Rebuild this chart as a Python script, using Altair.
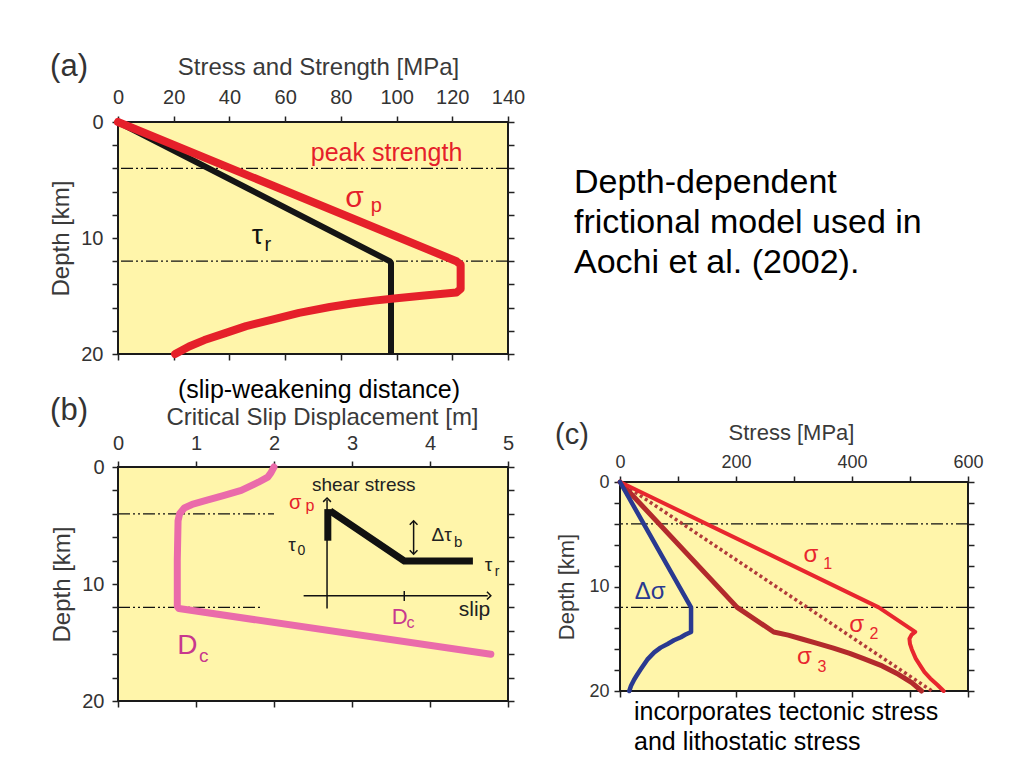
import altair as alt
import pandas as pd

FONT = "Liberation Sans"

# ---------------- data ----------------
depth_ticks = [0, 2, 4, 6, 8, 10, 12, 14, 16, 18, 20]
guide_depths = [4, 12]

# (a) stress and strength profiles [MPa] vs depth [km]
a_stress_ticks = [0, 20, 40, 60, 80, 100, 120, 140]
a_tau_stress = [0, 97.5, 98, 98]
a_tau_depth = [0, 12.0, 12.15, 20]
a_sigp_stress = [0, 121.5, 123, 123, 121.5, 110, 100, 92, 84, 76, 65, 55, 46, 38.5, 31, 25.5, 20.5]
a_sigp_depth = [0, 12.0, 12.3, 14.4, 14.7, 14.95, 15.2, 15.4, 15.65, 15.95, 16.45, 17.05, 17.6, 18.2, 18.8, 19.35, 20]

# (b) critical slip displacement [m] vs depth [km]
b_slip_ticks = [0, 1, 2, 3, 4, 5]
b_dc_slip = [2.0, 1.96, 1.92, 1.8, 1.58, 1.35, 1.13, 0.95, 0.85, 0.79, 0.77, 0.76, 0.76, 0.78, 4.78]
b_dc_depth = [0, 0.5, 0.86, 1.3, 2.0, 2.45, 2.86, 3.2, 3.5, 4.0, 4.6, 8.0, 11.9, 12.1, 16.0]
b_guide_slip_end = [2.0, 1.84]

# inset sketch of the slip-weakening law (in panel-b units)
inset_bar_slip = [2.69]
inset_bar_top = [3.6]
inset_bar_bottom = [6.3]
inset_law_slip = [2.72, 3.67, 4.55]
inset_law_depth = [3.75, 8.03, 8.03]
inset_rule_x1 = [2.68, 2.38, 3.67, 3.79]
inset_rule_y1 = [2.8, 11.0, 10.6, 4.7]
inset_rule_x2 = [2.68, 4.74, 3.67, 3.79]
inset_rule_y2 = [12.1, 11.0, 11.45, 7.35]
arrow_up_x = [2.68, 3.79]
arrow_up_y = [2.65, 4.6]
arrow_right_x = [4.78]
arrow_right_y = [11.0]
arrow_down_x = [3.79]
arrow_down_y = [7.45]

# (c) stress [MPa] vs depth [km]
c_stress_ticks = [0, 100, 200, 300, 400, 500, 600]
c_dsig_stress = [0, 122.5, 122.5, 113, 105, 93, 82, 70, 59, 47, 36, 29, 24.5, 19, 16]
c_dsig_depth = [0, 12.0, 14.35, 14.6, 14.85, 15.15, 15.5, 15.85, 16.3, 17.0, 17.9, 18.5, 18.9, 19.5, 20]
c_s1_stress = [0, 446, 509, 503, 499, 500, 503, 510, 518, 525, 535, 547, 558]
c_s1_depth = [0, 12, 14.35, 14.6, 15.0, 15.5, 16.0, 16.9, 17.6, 18.2, 18.8, 19.4, 20]
c_s2_stress = [0, 538]
c_s2_depth = [0, 20]
c_s3_stress = [0, 202, 265, 290, 312, 340, 368, 396, 420, 452, 480, 503, 520]
c_s3_depth = [0, 12, 14.35, 14.65, 15.0, 15.45, 15.9, 16.4, 16.9, 17.6, 18.4, 19.2, 20]

# annotation texts (data units of each panel)
a_txt = pd.DataFrame({
    "t": ["peak strength", "σ", "p", "τ", "r"],
    "x": [96.4, 84.9, 92.7, 50, 53.8],
    "y": [3.34, 7.34, 7.8, 10.5, 11.1],
    "s": [25, 30, 20, 28, 20],
    "c": ["#E5202A", "#E5202A", "#E5202A", "#111111", "#111111"],
})
b_txt = pd.DataFrame({
    "t": ["D", "c", "shear stress", "σ", "p", "τ", "0", "Δτ", "b", "τ", "r", "D", "c", "slip"],
    "x": [0.89, 1.1, 3.15, 2.27, 2.46, 2.23, 2.35, 4.15, 4.36, 4.75, 4.86, 3.61, 3.75, 4.57],
    "y": [16.0, 16.7, 2.05, 3.6, 3.8, 7.2, 7.5, 6.3, 6.85, 8.9, 9.3, 13.4, 13.8, 12.7],
    "s": [28, 19, 19, 20, 16, 19, 14, 19, 15, 19, 14, 22, 16, 21],
    "c": ["#C8388E", "#C8388E", "#222222", "#E5202A", "#E5202A", "#222222", "#222222",
          "#222222", "#222222", "#222222", "#222222", "#C8388E", "#C8388E", "#222222"],
})
c_txt = pd.DataFrame({
    "t": ["σ", "1", "σ", "2", "σ", "3", "Δσ"],
    "x": [329, 358, 408, 438, 318, 348, 52],
    "y": [7.65, 8.3, 14.35, 15.0, 17.4, 18.2, 11.17],
    "s": [24, 16, 24, 16, 24, 16, 24],
    "c": ["#E8262E"] * 6 + ["#2A3990"],
})
caption = "Depth-dependent\nfrictional model used in\nAochi et al. (2002)."
c_note = "incorporates tectonic stress\nand lithostatic stress"

# ---------------- helpers ----------------
def xy(xs, ys):
    return pd.DataFrame({"x": xs, "y": ys, "i": list(range(len(xs)))})


def X(dom, axis=None, field="x"):
    return alt.X(f"{field}:Q", scale=alt.Scale(domain=dom, nice=False, zero=False), axis=axis)


def Y(axis=None, field="y"):
    return alt.Y(f"{field}:Q", scale=alt.Scale(domain=[0, 20], reverse=True, nice=False, zero=False), axis=axis)


AX = dict(domain=False, grid=False, tickSize=6, tickWidth=1.5, tickColor="#222222",
          labelFont=FONT, labelColor="#333333", labelFlush=False, labelOverlap=False,
          labelBound=False, titleFont=FONT, titleColor="#3a3a3a", titleFontWeight="normal")
LBL10 = "datum.value % 10 == 0 ? datum.label : ''"


def axes(xticks, xtitle, xt_x, xt_y, ytitle_x, h, lsize, tsize, pad, xexpr="datum.label"):
    top = alt.Axis(orient="top", values=xticks, title=xtitle, titleX=xt_x, titleY=xt_y,
                   titleBaseline="alphabetic", titleAlign="center", titleFontSize=tsize,
                   labelFontSize=lsize, labelPadding=pad, labelExpr=xexpr, **AX)
    left = alt.Axis(orient="left", values=depth_ticks, title="Depth [km]", titleX=ytitle_x,
                    titleY=h / 2, titleAngle=270, titleBaseline="middle", titleAlign="center",
                    titleFontSize=tsize, labelFontSize=lsize, labelPadding=pad, labelExpr=LBL10, **AX)
    bottom = alt.Axis(orient="bottom", values=xticks, labels=False, title=None, **AX)
    right = alt.Axis(orient="right", values=depth_ticks, labels=False, title=None, **AX)
    return top, left, bottom, right


def line(df, dom, color, width, axx=None, axy=None, dash=None, cap="round"):
    kw = dict(color=color, strokeWidth=width, strokeCap=cap, strokeJoin="round")
    if dash:
        kw["strokeDash"] = dash
    return alt.Chart(df).mark_line(**kw).encode(
        x=X(dom, axx), y=Y(axy), order=alt.Order("i:Q"))


def guides(dom):
    return alt.Chart(pd.DataFrame({"y": guide_depths})).mark_rule(
        color="#111111", strokeWidth=1.2, strokeDash=[12, 3, 2, 3, 2, 3]).encode(y=Y())


def texts(df, dom):
    return alt.Chart(df).mark_text(font=FONT, align="center", baseline="alphabetic").encode(
        x=X(dom), y=Y(), text="t:N", size=alt.Size("s:Q", scale=None),
        color=alt.Color("c:N", scale=None))


def label(txt, x, y, size, color="#333333", align="center", lh=None):
    kw = dict(font=FONT, fontSize=size, color=color, align=align, baseline="alphabetic")
    if lh:
        kw["lineBreak"] = "\n"
        kw["lineHeight"] = lh
    return alt.Chart(pd.DataFrame({"k": [0]})).mark_text(**kw).encode(
        x=alt.value(x), y=alt.value(y), text=alt.value(txt))


def marker(x, y, x2=None, y2=None):
    # invisible rule that only fixes the layout extent of a panel
    enc = dict(x=alt.value(x), y=alt.value(y))
    if x2 is not None:
        enc["x2"] = alt.value(x2)
    if y2 is not None:
        enc["y2"] = alt.value(y2)
    return alt.Chart(pd.DataFrame({"k": [0]})).mark_rule(opacity=0).encode(**enc)


# ---------------- panel (a) ----------------
WA, HA = 390, 232
domA = [0, 140]
tA, lA, bA, rA = axes(a_stress_ticks, "Stress and Strength [MPa]", 200, -48, -57, HA, 20, 24, 9)
panel_a = alt.layer(
    marker(-80, -80, y2=HA + 10),
    marker(-80, -80, x2=WA + 20),
    guides(domA),
    line(xy(a_tau_stress, a_tau_depth), domA, "#151515", 6, tA, lA, cap="butt"),
    line(xy(a_sigp_stress, a_sigp_depth), domA, "#E5202A", 8, bA, rA),
    texts(a_txt, domA),
    label("(a)", -49, -46, 31),
).resolve_axis(x="independent", y="independent").properties(width=WA, height=HA)

# ---------------- panel (b) ----------------
WB, HB = 390, 234
domB = [0, 5]
tB, lB, bB, rB = axes(b_slip_ticks, "Critical Slip Displacement [m]", 204, -43, -56, HB, 20, 24, 8)
b_guides = alt.Chart(pd.DataFrame({"y": guide_depths, "x": [0, 0], "x2": b_guide_slip_end})).mark_rule(
    color="#111111", strokeWidth=1.2, strokeDash=[12, 3, 2, 3, 2, 3]).encode(
    x=X(domB), x2="x2:Q", y=Y())
inset_rules = alt.Chart(pd.DataFrame({"x": inset_rule_x1, "y": inset_rule_y1,
                                      "x2": inset_rule_x2, "y2": inset_rule_y2})).mark_rule(
    color="#111111", strokeWidth=1.5).encode(x=X(domB), y=Y(), x2="x2:Q", y2="y2:Q")
inset_bar = alt.Chart(pd.DataFrame({"x": inset_bar_slip, "y": inset_bar_top, "y2": inset_bar_bottom})).mark_rule(
    color="#111111", strokeWidth=7).encode(x=X(domB), y=Y(), y2="y2:Q")
inset_law = alt.Chart(xy(inset_law_slip, inset_law_depth)).mark_line(
    color="#111111", strokeWidth=7, strokeJoin="miter", strokeCap="butt").encode(
    x=X(domB), y=Y(), order=alt.Order("i:Q"))


def arrows(xs, ys, path):
    return alt.Chart(pd.DataFrame({"x": xs, "y": ys})).mark_point(
        shape=path, filled=False, size=60, stroke="#111111", strokeWidth=1.5, opacity=1).encode(
        x=X(domB), y=Y())


panel_b = alt.layer(
    marker(-80, -100, x2=WB + 20),
    b_guides,
    line(xy(b_dc_slip, b_dc_depth), domB, "#EA6BAA", 7, tB, lB),
    line(xy([0, 5], [20, 20]), domB, "#000000", 0, bB, rB),
    inset_rules,
    arrows(arrow_up_x, arrow_up_y, "M-1,1L0,0L1,1"),
    arrows(arrow_right_x, arrow_right_y, "M-1,-1L0,0L-1,1"),
    arrows(arrow_down_x, arrow_down_y, "M-1,-1L0,0L1,-1"),
    inset_bar,
    inset_law,
    texts(b_txt, domB),
    label("(b)", -49, -47, 31),
    label("(slip-weakening distance)", 201, -69, 25, color="#000000"),
).resolve_axis(x="independent", y="independent").properties(width=WB, height=HB)

# ---------------- caption block (top right) ----------------
WT, HT = 348, 288
caption_block = alt.layer(
    marker(0, 0, y2=HT),
    label(caption, -46, 71, 34, color="#000000", align="left", lh=40),
).properties(width=WT, height=HT,
             view=alt.ViewBackground(fill="transparent", stroke="transparent"))

# ---------------- panel (c) ----------------
WC, HC = 348, 209
domC = [0, 600]
tC, lC, bC, rC = axes(c_stress_ticks, "Stress [MPa]", 171, -43, -54, HC, 18, 22, 5,
                      xexpr="datum.value % 200 == 0 ? datum.label : ''")
panel_c = alt.layer(
    marker(-80, -70, x2=0),
    guides(domC),
    line(xy(c_s2_stress, c_s2_depth), domC, "#B23A3A", 3.5, bC, rC, dash=[3, 3], cap="butt"),
    line(xy(c_s3_stress, c_s3_depth), domC, "#B32A2C", 5),
    line(xy(c_s1_stress, c_s1_depth), domC, "#E8262E", 4),
    line(xy(c_dsig_stress, c_dsig_depth), domC, "#2A3990", 4.5, tC, lC),
    texts(c_txt, domC),
    label("(c)", -48, -38, 29),
    label(c_note, 14, 238, 25, color="#000000", align="left", lh=30),
).resolve_axis(x="independent", y="independent").properties(width=WC, height=HC)

left_col = alt.vconcat(panel_a, panel_b, spacing=1)
right_col = alt.vconcat(caption_block, panel_c, spacing=0)

chart = alt.hconcat(left_col, right_col, spacing=10).properties(
    padding={"left": 29, "top": 33, "right": 5, "bottom": 5}
).configure(font=FONT).configure_view(fill="#FFF5AA", stroke="#1a1a1a", strokeWidth=2)

chart.save("out.html", embed_options={"renderer": "svg", "actions": False})
